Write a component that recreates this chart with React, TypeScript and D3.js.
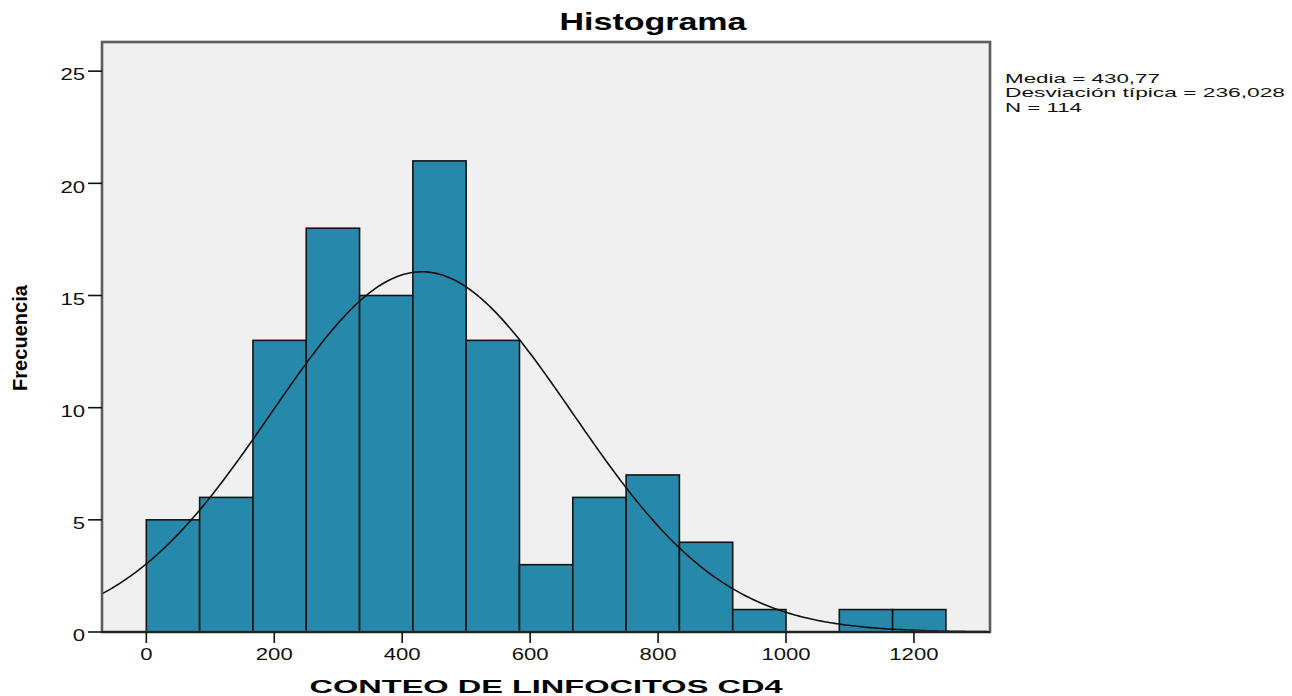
import React from "react";
import * as d3 from "d3";

// Histogram of CD4 lymphocyte counts with fitted normal curve
const binStart = 0;
const binWidth = 1250 / 15;
const counts = [5, 6, 13, 18, 15, 21, 13, 3, 6, 7, 4, 1, 0, 1, 1];
const xTicks = [0, 200, 400, 600, 800, 1000, 1200];
const yTicks = [0, 5, 10, 15, 20, 25];
const mean = 430.77;
const sd = 236.028;
const n = 114;
const statLines = ["Media = 430,77", "Desviación típica = 236,028", "N = 114"];
const statWidths = [155, 280, 77];

const W = 1292;
const H = 696;
const plot = { left: 102, right: 990, top: 42, bottom: 632 };

const FONT = "'Liberation Sans', Arial, Helvetica, sans-serif";
const DIGIT_W = 12.3;

export default function App() {
  const x = d3.scaleLinear().domain([-69.3, 1318.9]).range([plot.left, plot.right]);
  const y = d3.scaleLinear().domain([0, 26.3]).range([plot.bottom, plot.top]);

  const bins = counts.map((c, i) => ({
    x0: binStart + i * binWidth,
    x1: binStart + (i + 1) * binWidth,
    c,
  }));

  const [dx0, dx1] = x.domain();
  const curvePts: [number, number][] = d3.range(0, 401).map((k) => {
    const v = dx0 + ((dx1 - dx0) * k) / 400;
    const z = (v - mean) / sd;
    const f = (n * binWidth * Math.exp(-0.5 * z * z)) / (sd * Math.sqrt(2 * Math.PI));
    return [v, f];
  });
  const line = d3
    .line<[number, number]>()
    .x((d) => x(d[0]))
    .y((d) => y(d[1]))
    .curve(d3.curveLinear);

  return (
    <svg
      width={W}
      height={H}
      style={{ position: "absolute", left: 0, top: 0, background: "#fff" }}
      fontFamily={FONT}
    >
      <rect
        x={plot.left}
        y={plot.top}
        width={plot.right - plot.left}
        height={plot.bottom - plot.top}
        fill="#f0f0f0"
      />
      {bins
        .filter((b) => b.c > 0)
        .map((b, i) => (
          <rect
            key={i}
            x={x(b.x0)}
            y={y(b.c)}
            width={x(b.x1) - x(b.x0)}
            height={y(0) - y(b.c)}
            fill="#2689ab"
            stroke="#141414"
            strokeWidth={1.6}
          />
        ))}
      <path d={line(curvePts) || ""} fill="none" stroke="#111" strokeWidth={1.6} />
      <rect
        x={plot.left}
        y={plot.top}
        width={plot.right - plot.left}
        height={plot.bottom - plot.top}
        fill="none"
        stroke="#5c5c5c"
        strokeWidth={2.6}
      />
      <line x1={plot.left} x2={plot.right} y1={plot.bottom} y2={plot.bottom} stroke="#222" strokeWidth={2} />

      {/* y axis */}
      {yTicks.map((t) => (
        <g key={"y" + t}>
          <line x1={88} x2={plot.left} y1={y(t)} y2={y(t)} stroke="#111" strokeWidth={1.6} />
          <text
            x={85}
            y={y(t) + 9.3}
            textAnchor="end"
            fontSize={16.5}
            fill="#111"
            textLength={String(t).length * DIGIT_W}
            lengthAdjust="spacingAndGlyphs"
          >
            {t}
          </text>
        </g>
      ))}

      {/* x axis */}
      {xTicks.map((t) => (
        <g key={"x" + t}>
          <line x1={x(t)} x2={x(t)} y1={plot.bottom} y2={plot.bottom + 11} stroke="#111" strokeWidth={1.6} />
          <text
            x={x(t)}
            y={659.5}
            textAnchor="middle"
            fontSize={16}
            fill="#111"
            textLength={String(t).length * DIGIT_W}
            lengthAdjust="spacingAndGlyphs"
          >
            {t}
          </text>
        </g>
      ))}

      <text
        x={(plot.left + plot.right) / 2 + 107}
        y={30}
        textAnchor="middle"
        fontSize={23.5}
        fontWeight="bold"
        fill="#000"
        textLength={187}
        lengthAdjust="spacingAndGlyphs"
      >
        Histograma
      </text>

      <text
        x={(plot.left + plot.right) / 2}
        y={693}
        textAnchor="middle"
        fontSize={19}
        fontWeight="bold"
        fill="#000"
        textLength={473}
        lengthAdjust="spacingAndGlyphs"
      >
        CONTEO DE LINFOCITOS CD4
      </text>

      <text
        transform={`translate(27, 338) rotate(-90)`}
        textAnchor="middle"
        fontSize={20}
        fontWeight="bold"
        fill="#000"
        textLength={106}
        lengthAdjust="spacingAndGlyphs"
      >
        Frecuencia
      </text>

      {statLines.map((s, i) => (
        <text
          key={s}
          x={1005}
          y={82.5 + i * 14.5}
          fontSize={13.5}
          fill="#111"
          textLength={statWidths[i]}
          lengthAdjust="spacingAndGlyphs"
        >
          {s}
        </text>
      ))}
    </svg>
  );
}
